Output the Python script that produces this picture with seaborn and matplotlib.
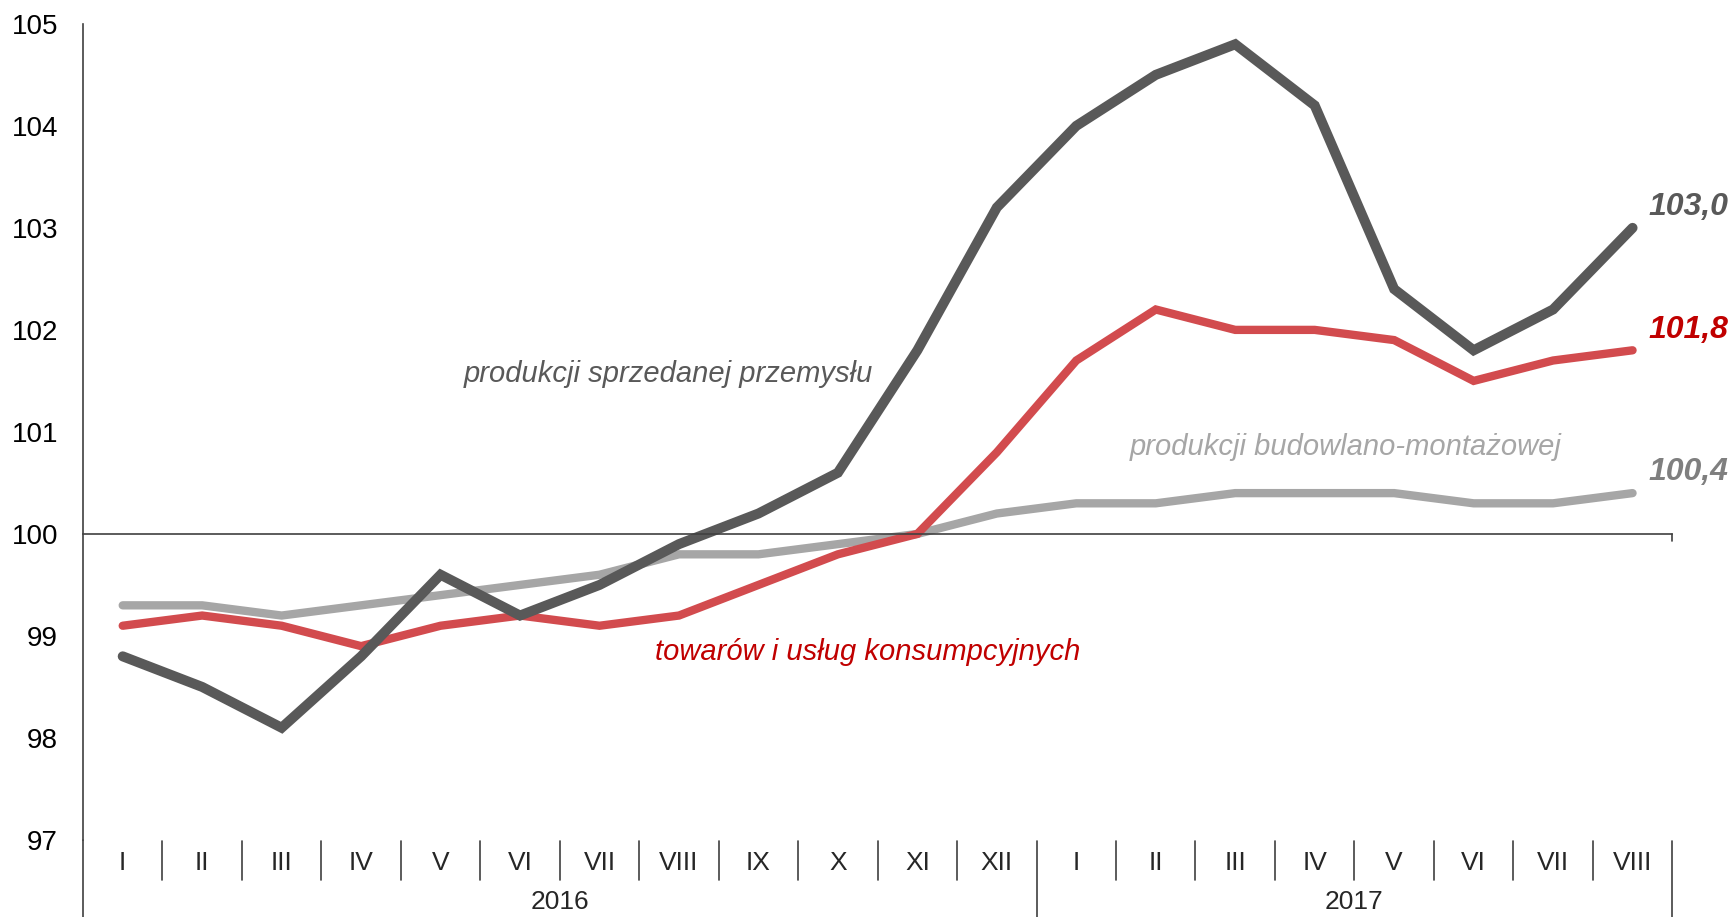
import numpy as np
import pandas as pd
import matplotlib
matplotlib.use('Agg')
import matplotlib.pyplot as plt
import matplotlib.transforms as mtransforms
import seaborn as sns

sns.set_theme(style='white')
plt.rcParams['font.family'] = ['Liberation Sans', 'DejaVu Sans']

# Dane: dynamika (analogiczny okres roku poprzedniego = 100)
MIESIACE = ['I', 'II', 'III', 'IV', 'V', 'VI', 'VII', 'VIII', 'IX', 'X', 'XI', 'XII',
            'I', 'II', 'III', 'IV', 'V', 'VI', 'VII', 'VIII']
LATA = ['2016', '2017']
PRZEMYSL = [98.8, 98.5, 98.1, 98.8, 99.6, 99.2, 99.5, 99.9, 100.2, 100.6, 101.8, 103.2,
            104.0, 104.5, 104.8, 104.2, 102.4, 101.8, 102.2, 103.0]
KONSUMPCJA = [99.1, 99.2, 99.1, 98.9, 99.1, 99.2, 99.1, 99.2, 99.5, 99.8, 100.0, 100.8,
              101.7, 102.2, 102.0, 102.0, 101.9, 101.5, 101.7, 101.8]
BUDOWNICTWO = [99.3, 99.3, 99.2, 99.3, 99.4, 99.5, 99.6, 99.8, 99.8, 99.9, 100.0, 100.2,
               100.3, 100.3, 100.4, 100.4, 100.4, 100.3, 100.3, 100.4]

C_PRZ = '#595959'
C_KON = '#d24b4e'
C_BUD = '#a6a6a6'
C_AX = '#404040'

idx = np.arange(len(MIESIACE))
df = pd.DataFrame({'x': idx, 'prz': PRZEMYSL, 'kon': KONSUMPCJA, 'bud': BUDOWNICTWO})

fig = plt.figure(figsize=(17.36, 9.17), dpi=100)
ax = fig.add_axes([0.0478, 0.084, 0.9155, 0.890])

sns.lineplot(data=df, x='x', y='bud', color=C_BUD, linewidth=6.0, ax=ax,
             solid_capstyle='round', solid_joinstyle='miter')
sns.lineplot(data=df, x='x', y='kon', color=C_KON, linewidth=6.0, ax=ax,
             solid_capstyle='round', solid_joinstyle='miter')
sns.lineplot(data=df, x='x', y='prz', color=C_PRZ, linewidth=7.2, ax=ax,
             solid_capstyle='round', solid_joinstyle='miter')

ax.set_xlim(-0.5, len(MIESIACE) - 0.5)
ax.set_ylim(97, 105)
ax.set_yticks(range(97, 106))
ax.set_yticklabels([str(v) for v in range(97, 106)], fontsize=20, color='black')
ax.set_xlabel('')
ax.set_ylabel('')

for s in ['top', 'right']:
    ax.spines[s].set_visible(False)
ax.spines['left'].set_color(C_AX)
ax.spines['left'].set_linewidth(1.2)
ax.spines['bottom'].set_position(('data', 100))
ax.spines['bottom'].set_color(C_AX)
ax.spines['bottom'].set_linewidth(1.2)

ax.set_xticks(np.arange(0.5, len(MIESIACE), 1.0))
ax.set_xticklabels([])
ax.tick_params(axis='x', direction='out', length=7, width=1.2, color=C_AX)
ax.tick_params(axis='y', direction='out', length=7, width=1.2, color=C_AX, pad=11)

# Opisy osi X pod wykresem
trans = mtransforms.blended_transform_factory(ax.transData, ax.transAxes)
px = 1.0 / (ax.get_position().height * fig.get_figheight() * fig.dpi)
y100 = (100 - 97) / 8.0
ax.plot([len(MIESIACE) - 0.5] * 2, [y100, y100 - 7 * px], transform=trans,
        color=C_AX, lw=1.2, clip_on=False)
for i, m in enumerate(MIESIACE):
    ax.text(i, -23 * px, m, transform=trans, ha='center', va='center', fontsize=19)
for b in np.arange(0.5, len(MIESIACE) - 1, 1.0):
    if b == 11.5:
        continue
    ax.plot([b, b], [-1 * px, -40 * px], transform=trans, color=C_AX, lw=1.2, clip_on=False)
for b in [11.5, len(MIESIACE) - 0.5]:
    ax.plot([b, b], [-1 * px, -80 * px], transform=trans, color=C_AX, lw=1.2, clip_on=False)
ax.plot([-0.5, -0.5], [0, -80 * px], transform=trans, color=C_AX, lw=1.2, clip_on=False)
ax.text(5.5, -62 * px, LATA[0], transform=trans, ha='center', va='center', fontsize=19)
ax.text(15.5, -62 * px, LATA[1], transform=trans, ha='center', va='center', fontsize=19)

# Etykiety serii
ax.text(6.87, 101.57, 'produkcji sprzedanej przemysłu', color=C_PRZ, fontsize=21,
        style='italic', ha='center', va='center')
ax.text(9.38, 98.84, 'towarów i usług konsumpcyjnych', color='#c00000', fontsize=21,
        style='italic', ha='center', va='center')
ax.text(15.39, 100.85, 'produkcji budowlano-montażowej', color=C_BUD, fontsize=21,
        style='italic', ha='center', va='center')

# Wartości końcowe
last = len(MIESIACE) - 1
ax.text(last + 0.2, PRZEMYSL[-1] + 0.2, '103,0', color=C_PRZ, fontsize=23,
        fontweight='bold', style='italic', ha='left', va='center', clip_on=False)
ax.text(last + 0.2, KONSUMPCJA[-1] + 0.2, '101,8', color='#c00000', fontsize=23,
        fontweight='bold', style='italic', ha='left', va='center', clip_on=False)
ax.text(last + 0.2, BUDOWNICTWO[-1] + 0.21, '100,4', color='#7f7f7f', fontsize=23,
        fontweight='bold', style='italic', ha='left', va='center', clip_on=False)

fig.savefig('out.png', dpi=100)
